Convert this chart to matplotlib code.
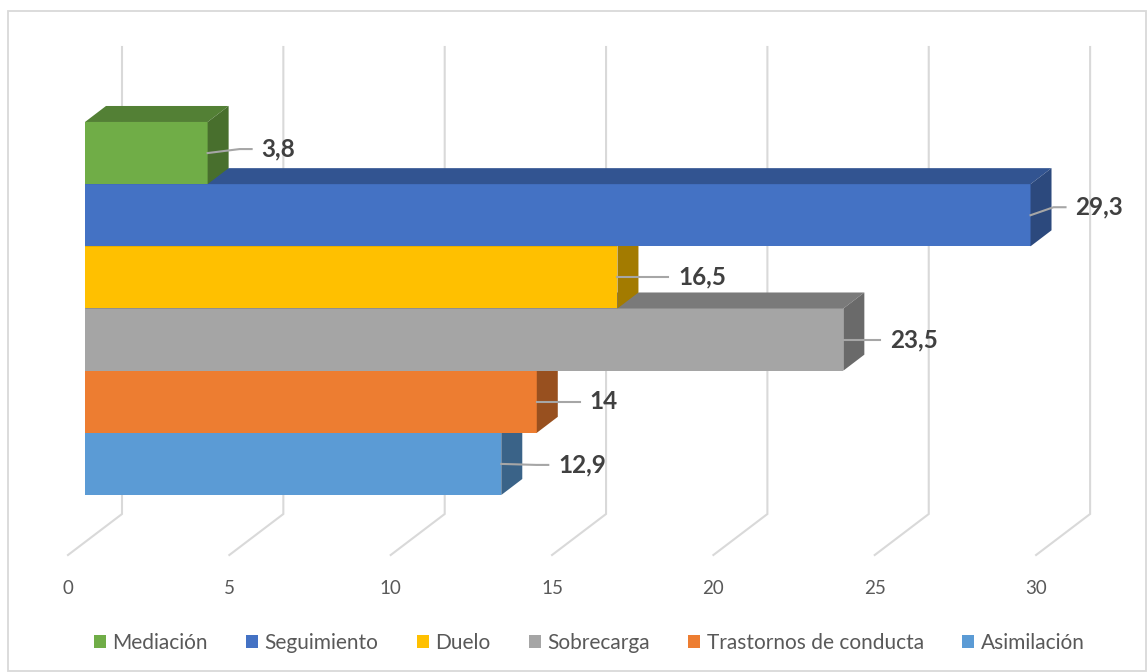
import matplotlib
matplotlib.use("Agg")
import matplotlib.pyplot as plt
from matplotlib.patches import Polygon, Patch, Rectangle
from matplotlib.colors import to_rgb

# data, top to bottom as shown
categories = ["Mediación", "Seguimiento", "Duelo", "Sobrecarga",
              "Trastornos de conducta", "Asimilación"]
values = [3.8, 29.3, 16.5, 23.5, 14, 12.9]
labels = ["3,8", "29,3", "16,5", "23,5", "14", "12,9"]
ticks = [0, 5, 10, 15, 20, 25, 30]

colors = ["#70AD47", "#4472C4", "#FFC000", "#A5A5A5", "#ED7D31", "#5B9BD5"]

# layout, in pixels (figure is 1148 x 672 at dpi 100)
W, H = 1148, 672
X0_PX, PX_PER_UNIT = 85, 32.27      # value 0 at front face of bars
Y0_PX, PX_PER_SLOT = 495, 62.17     # bottom of lowest bar
label_dx_px = [54, 45, 61, 47, 53, 57]
label_dy_px = [4, 8, 0, 0, 0, -1]

plt.rcParams["font.family"] = ["Lato", "DejaVu Sans"]


def px_x(d):
    return d / PX_PER_UNIT


def px_y(d):
    return d / PX_PER_SLOT


def shade(c, f):
    r, g, b = to_rgb(c)
    return (r * f, g * f, b * f)


fig = plt.figure(figsize=(W / 100, H / 100), dpi=100)
ax = fig.add_axes([0, 0, 1, 1])
ax.set_xlim(-px_x(X0_PX), px_x(W - X0_PX))
ax.set_ylim(-px_y(H - Y0_PX), px_y(Y0_PX))
ax.axis("off")

# outer chart frame
fig.patches.append(Rectangle((8 / W, 1 / H), 1138 / W, 660 / H, transform=fig.transFigure,
                             fill=False, edgecolor="#D9D9D9", linewidth=1.3))

# gridlines: back wall vertical, then floor diagonal to the front
grid_c = "#D9D9D9"
back_dx, front_dx = px_x(37), px_x(-17)
top_y, floor_back, floor_front = px_y(Y0_PX - 47), px_y(Y0_PX - 514), px_y(Y0_PX - 555)
for t in ticks:
    ax.plot([t + back_dx, t + back_dx, t + front_dx],
            [top_y, floor_back, floor_front], color=grid_c, lw=1.5, zorder=1,
            solid_joinstyle="miter")
    ax.text(t + front_dx, px_y(Y0_PX - 588), str(t), ha="center", va="center",
            fontsize=13.5, color="#595959")

# 3D bars, bottom first so upper bars hide the top faces below
dx, dy = px_x(21), px_y(16)
n = len(values)
for k in range(n - 1, -1, -1):
    v, c = values[k], colors[k]
    y = n - 1 - k
    z = 10 + (n - k) * 3
    ax.add_patch(Polygon([(0, y), (v, y), (v, y + 1), (0, y + 1)], closed=True,
                         facecolor=c, edgecolor="none", zorder=z))
    ax.add_patch(Polygon([(0, y + 1), (v, y + 1), (v + dx, y + 1 + dy), (dx, y + 1 + dy)],
                         closed=True, facecolor=shade(c, 0.74), edgecolor="none", zorder=z))
    ax.add_patch(Polygon([(v, y), (v + dx, y + dy), (v + dx, y + 1 + dy), (v, y + 1)],
                         closed=True, facecolor=shade(c, 0.64), edgecolor="none", zorder=z))

    # data label with leader line
    yc = y + 0.5
    yl = yc + px_y(label_dy_px[k])
    xe = v + px_x(label_dx_px[k] - 10)
    xm = v + px_x(label_dx_px[k] - 22) if label_dy_px[k] else xe
    ax.plot([v, xm, xe], [yc, yl, yl], color="#A6A6A6", lw=1.5, zorder=40)
    ax.text(v + px_x(label_dx_px[k]), yl, labels[k], ha="left", va="center",
            fontsize=17.5, fontweight="bold", color="#404040", zorder=41)

handles = [Patch(facecolor=c, edgecolor="none") for c in colors]
fig.legend(handles, categories, loc="center", bbox_to_anchor=(589 / W, 1 - 643 / H),
           ncol=6, frameon=False, fontsize=15, handlelength=0.58, handleheight=0.58,
           handletextpad=0.3, columnspacing=1.85, labelcolor="#595959")

fig.savefig("out.png", dpi=100)
